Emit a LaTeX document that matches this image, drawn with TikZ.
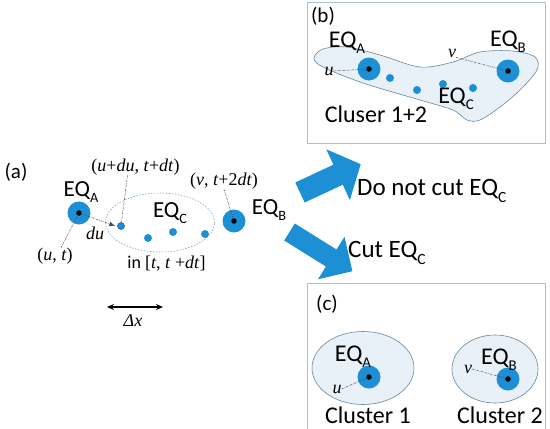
\documentclass[tikz,border=0pt]{standalone}
\usepackage{fontspec}
\setmainfont{Carlito}
\newfontfamily\tms{Liberation Serif}
\usetikzlibrary{arrows.meta,shapes.geometric}
\definecolor{qblue}{RGB}{28,143,213}
\definecolor{qdark}{RGB}{20,90,140}
\definecolor{qfill}{RGB}{232,241,248}
\definecolor{qedge}{RGB}{105,135,155}
\definecolor{qbox}{RGB}{170,192,207}
\definecolor{qdash}{RGB}{120,165,200}
\newcommand\myEQ[1]{EQ\raisebox{-0.28em}{\fontsize{0.62em}{0.62em}\selectfont #1}}
\begin{document}
\begin{tikzpicture}[x=1pt,y=-1pt,
  bigeq/.style={circle,fill=qblue,minimum size=23pt,inner sep=0pt},
  core/.style={circle,fill=black,minimum size=5.5pt,inner sep=0pt},
  sdot/.style={circle,fill=qblue,minimum size=8pt,inner sep=0pt},
  lead/.style={draw=black!70,line width=0.5pt,dash pattern=on 2pt off 1pt on 0.6pt off 1pt},
  eqa/.style={font=\fontsize{23}{23}\selectfont,inner sep=0pt,anchor=base},
  eqb/.style={font=\fontsize{24}{24}\selectfont,inner sep=0pt,anchor=base},
  panlbl/.style={font=\fontsize{21}{21}\selectfont,inner sep=0pt},
  ital/.style={font=\fontsize{18}{18}\selectfont\tms,inner sep=0pt},
  panel/.style={draw=qbox,line width=0.9pt,rectangle,inner sep=0pt,anchor=north west},
  region/.style={fill=qfill,draw=qedge,line width=0.6pt},
  barrow/.style={fill=qblue,draw=none},
  decision/.style={font=\fontsize{25}{25}\selectfont,inner sep=0pt,anchor=base west}
]
\useasboundingbox (0,0) rectangle (550,429);

% ---------- panel boxes ----------
\node[panel,minimum width=238pt,minimum height=141pt] (pb) at (307,2) {};
\node[panel,minimum width=238pt,minimum height=152pt] (pc) at (307,283) {};
\node[panlbl] (lb) at (323,16) {(b)};
\node[panlbl] (lc) at (327,304) {(c)};

% ---------- panel (a) ----------
\node[panlbl] (la) at (16,172) {(a)};
\node[draw=qdash,line width=0.6pt,dash pattern=on 1.5pt off 1.5pt,ellipse,
      minimum width=109pt,minimum height=59pt,inner sep=0pt] (aell) at (160,222.5) {};
\node[bigeq] (aA) at (79,213) {};
\node[bigeq] (aB) at (234,221) {};
\node[sdot,minimum size=7pt,draw=qdark,line width=0.5pt] (aD) at (121,226) {};
\node[sdot] (a1) at (148,238) {};
\node[sdot] (a2) at (173,232) {};
\node[sdot] (a3) at (205,234) {};
\node[eqa] (laA) at (81,196) {\myEQ{A}};
\node[eqa] (laC) at (170,217) {\myEQ{C}};
\node[eqa] (laB) at (269,214) {\myEQ{B}};
\node[ital] (lud) at (135.5,167) {(\textit{u}+\textit{du}, \textit{t}+\textit{dt})};
\node[ital] (lut) at (55,256) {(\textit{u}, \textit{t})};
\node[ital] (lvt) at (224,181) {(\textit{v}, \textit{t}+2\textit{dt})};
\node[ital] (ldu) at (95,233) {\textit{du}};
\node[font=\fontsize{18}{18}\selectfont,inner sep=0pt] (lin) at (166.5,264)
      {in {\tms[\textit{t}, \textit{t} +\textit{dt}]}};
\draw[lead] ([xshift=6pt]lut.north) -- (aA.center);
\draw[lead] ([xshift=-8pt]lud.south) -- (aD);
\draw[lead] (lvt.south) -- (aB.center);
\draw[lead,-{Latex[length=6pt,width=5pt]}] (aA.center) -- ([xshift=-2pt]aD.west);
\node[core] (aAc) at (aA) {};
\node[core] (aBc) at (aB) {};
\coordinate (dxl) at (107,307);
\coordinate (dxr) at (163,307);
\draw[line width=1.1pt,{Stealth[length=7pt,width=6pt]}-{Stealth[length=7pt,width=6pt]}] (dxl) -- (dxr);
\node[ital] (ldx) at (133,321) {\textit{Δx}};

% ---------- block arrows ----------
\fill[barrow] (295.3,182.5) -- (333.4,164.7) -- (326.3,149.3) -- (360.7,164.2)
   -- (349.9,200.1) -- (342.8,184.7) -- (304.7,202.5) -- cycle;
\fill[barrow] (294.8,223.5) -- (336.5,249.5) -- (344.5,236.8) -- (352.4,271.2)
   -- (318,279.3) -- (325.9,266.5) -- (284.2,240.5) -- cycle;
\node[decision] (tdn) at (357,195) {Do not cut \myEQ{C}};
\node[decision] (tcut) at (348,257) {Cut \myEQ{C}};

% ---------- panel (b) ----------
\draw[region] plot[smooth cycle,tension=0.55] coordinates {
  (314,58) (323,49) (347,47) (380,55) (420,67) (453,62) (480,52) (513,51)
  (535,57) (537,70) (520,90) (500,107) (480,120) (467,120) (453,110)
  (420,100) (363,83) (323,67)};
\node[bigeq] (bA) at (369,69) {};
\node[bigeq] (bB) at (508,71) {};
\node[sdot] (b1) at (390,78) {};
\node[sdot] (b2) at (417,90) {};
\node[sdot] (b3) at (443,84) {};
\node[sdot] (b4) at (473,88) {};
\node[eqb] (lbA) at (347,47) {\myEQ{A}};
\node[eqb] (lbB) at (508,46) {\myEQ{B}};
\node[eqb] (lbC) at (456,103) {\myEQ{C}};
\node[ital] (lbu) at (329,71) {\textit{u}};
\node[ital] (lbv) at (452,53) {\textit{v}};
\draw[lead] (lbu.east) -- (bA.center);
\draw[lead] (lbv.south east) -- (bB.center);
\node[core] (bAc) at (bA) {};
\node[core] (bBc) at (bB) {};
\node[eqb] (lcl12) at (376,122) {Cluser 1+2};

% ---------- panel (c) ----------
\node[region,ellipse,minimum width=102pt,minimum height=73pt,inner sep=0pt] (c1) at (363,368) {};
\node[region,ellipse,minimum width=86pt,minimum height=68pt,inner sep=0pt] (c2) at (495,369) {};
\node[bigeq] (cA) at (369,377) {};
\node[bigeq] (cB) at (508,379) {};
\node[eqb] (lcA) at (353,361) {\myEQ{A}};
\node[eqb] (lcB) at (499,364) {\myEQ{B}};
\node[ital] (lcu) at (337,389) {\textit{u}};
\node[ital] (lcv) at (468,369) {\textit{v}};
\draw[lead] (lcu.east) -- (cA.center);
\draw[lead] (lcv.east) -- (cB.center);
\node[core] (cAc) at (cA) {};
\node[core] (cBc) at (cB) {};
\node[eqb] (lcl1) at (368,423) {Cluster 1};
\node[eqb] (lcl2) at (500,423) {Cluster 2};
\end{tikzpicture}
\end{document}
